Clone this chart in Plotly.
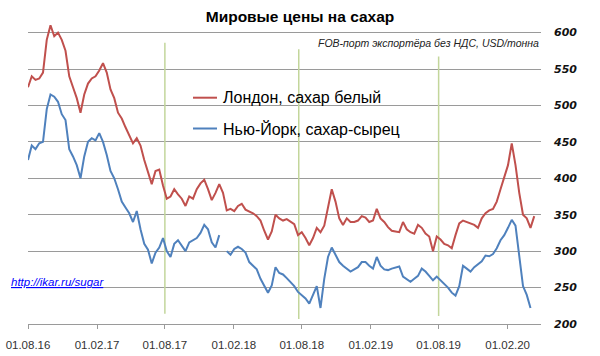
import pandas as pd
import plotly.graph_objects as go

# ---------------- data ----------------
start_date = "2016-08-01"
n_points = 136
dates = pd.date_range(start_date, periods=n_points, freq="10D")

london_white = [
    525, 540, 535, 537, 545, 590, 610, 595, 600, 590,
    575, 540, 525, 510, 490, 515, 530, 537, 540, 548,
    558, 545, 522, 510, 490, 482, 470, 460, 448, 455,
    445, 425, 410, 392, 410, 412, 390, 372, 375, 385,
    378, 372, 362, 375, 372, 385, 393, 398, 385, 370,
    380, 392, 380, 356, 358, 355, 362, 365, 357, 355,
    352, 348, 342, 328, 316, 327, 350, 345, 342, 344,
    340, 337, 322, 326, 318, 308, 318, 332, 326, 335,
    360, 385, 368, 345, 336, 345, 340, 340, 342, 348,
    346, 340, 342, 358, 345, 340, 333, 328, 327, 326,
    340, 330, 326, 324, 336, 332, 324, 320, 300, 320,
    316, 310, 308, 304, 322, 338, 342, 340, 338, 336,
    332, 345, 352, 356, 358, 368, 385, 400, 418, 448,
    418, 380, 350, 345, 332, 348,
]

newyork_raw = [
    425, 445, 440, 448, 450, 495, 515, 512, 505, 488,
    480, 440, 430, 418, 400, 430, 450, 455, 452, 462,
    450, 432, 410, 400, 385, 368, 360, 352, 340, 355,
    330, 310, 302, 283, 298, 305, 318, 300, 292, 310,
    315, 308, 300, 312, 315, 318, 325, 336, 330, 312,
    305, 322, None, 300, 295, 303, 306, 303, 298, 285,
    280, 275, 262, 252, 243, 253, 278, 270, 268, 263,
    258, 252, 244, 240, 235, 228, 240, 252, 222, 262,
    292, 305, 295, 285, 280, 276, 272, 275, 278, 285,
    285, 280, 276, 292, 280, 275, 274, 276, 278, 279,
    265, 261, 258, 262, 266, 276, 272, 266, 260, 265,
    260, 256, 250, 243, 239, 252, 280, 276, 272, 278,
    282, 286, 294, 293, 296, 304, 315, 322, 332, 343,
    335, 290, 252, 240, 222, None,
]

# vertical marker lines (dates and value span)
marker_dates = ["2017-08-01", "2018-07-24", "2019-08-01"]
marker_top = [586, 577, 567]
marker_bottom = [214, 207, 211]

x_tick_dates = ["2016-08-01", "2017-02-01", "2017-08-01", "2018-02-01",
                "2018-08-01", "2019-02-01", "2019-08-01", "2020-02-01"]
x_tick_text = ["01.08.16", "01.02.17", "01.08.17", "01.02.18",
               "01.08.18", "01.02.19", "01.08.19", "01.02.20"]
y_ticks = [200, 250, 300, 350, 400, 450, 500, 550, 600]

series_names = ["Лондон, сахар белый", "Нью-Йорк, сахар-сырец"]
title_text = "Мировые цены на сахар"
subtitle_text = "FOB-порт экспортёра без НДС, USD/тонна"
link_text = "http://ikar.ru/sugar"

# ---------------- layout helpers ----------------
W, H = 600, 356
L, R, T, B = 28, 59, 18, 32
RED = "#c0504d"
BLUE = "#4f81bd"
GREEN = "#c3d69b"
GRID = "#9a9a9a"


def px(x):
    return (x - L) / (W - L - R)


def py(y):
    return (H - B - y) / (H - T - B)


fig = go.Figure()

for d, top, bot in zip(marker_dates, marker_top, marker_bottom):
    fig.add_trace(go.Scatter(x=[d, d], y=[bot, top], mode="lines",
                             line=dict(color=GREEN, width=1.5),
                             showlegend=False, hoverinfo="skip"))

fig.add_trace(go.Scatter(x=dates, y=london_white, mode="lines", name=series_names[0],
                         line=dict(color=RED, width=2), showlegend=False))
fig.add_trace(go.Scatter(x=dates, y=newyork_raw, mode="lines", name=series_names[1],
                         line=dict(color=BLUE, width=2), showlegend=False,
                         connectgaps=False))

shapes = []
# white boxes hiding gridlines (legend, subtitle, link)
for x0, x1, y0, y1 in [(180, 414, 82, 146), (312, 548, 26, 56), (6, 147, 274, 293)]:
    shapes.append(dict(type="rect", xref="paper", yref="paper",
                       x0=px(x0), x1=px(x1), y0=py(y1), y1=py(y0),
                       fillcolor="white", line=dict(width=0), layer="between"))
# legend samples
for yy, col in [(97.7, RED), (128.5, BLUE)]:
    shapes.append(dict(type="line", xref="paper", yref="paper",
                       x0=px(193), x1=px(217), y0=py(yy), y1=py(yy),
                       line=dict(color=col, width=2), layer="above"))

annotations = []
for yy, name in [(97.7, series_names[0]), (128.5, series_names[1])]:
    annotations.append(dict(text=name, xref="paper", yref="paper", x=px(221), y=py(yy),
                            xanchor="left", yanchor="middle", showarrow=False,
                            font=dict(family="Liberation Sans", size=16, color="#000000")))
annotations.append(dict(text=subtitle_text, xref="paper", yref="paper", x=px(428.5), y=py(42.7),
                        xanchor="center", yanchor="middle", showarrow=False,
                        font=dict(family="Liberation Sans", size=10.5, color="#222222", style="italic")))
annotations.append(dict(text=link_text, xref="paper", yref="paper", x=px(57), y=py(281.7),
                        xanchor="center", yanchor="middle", showarrow=False,
                        font=dict(family="Liberation Sans", size=11.5, color="#0000ff",
                                  style="italic", lineposition="under")))

fig.update_layout(
    width=W, height=H,
    margin=dict(l=L, r=R, t=T, b=B),
    paper_bgcolor="white", plot_bgcolor="white",
    title=dict(text=title_text, x=0.5, xref="container", xanchor="center",
               y=1 - 17 / H, yref="container", yanchor="middle",
               font=dict(family="Liberation Sans", size=15.5, color="#000000", weight="bold")),
    shapes=shapes,
    annotations=annotations,
    showlegend=False,
    xaxis=dict(
        type="date", range=["2016-08-01", "2020-04-30"],
        tickvals=x_tick_dates, ticktext=x_tick_text,
        ticks="outside", ticklen=4, tickcolor=GRID, tickwidth=1,
        showline=True, linecolor=GRID, linewidth=1,
        showgrid=False, zeroline=False, automargin=False,
        ticklabelstandoff=6,
        tickfont=dict(family="Liberation Sans", size=11.5, color="#333333"),
    ),
    yaxis=dict(
        side="right", range=[200, 620],
        tickvals=y_ticks, ticktext=[str(v) for v in y_ticks],
        showgrid=True, gridcolor=GRID, gridwidth=1,
        zeroline=False, showline=False, ticks="", automargin=False,
        ticklabelstandoff=12,
        tickfont=dict(family="DejaVu Sans", size=11, color="#111111", style="italic", weight="bold"),
    ),
)

fig.write_html("out.html", config={"displayModeBar": False},
               post_script="document.body.style.margin='0px';")
